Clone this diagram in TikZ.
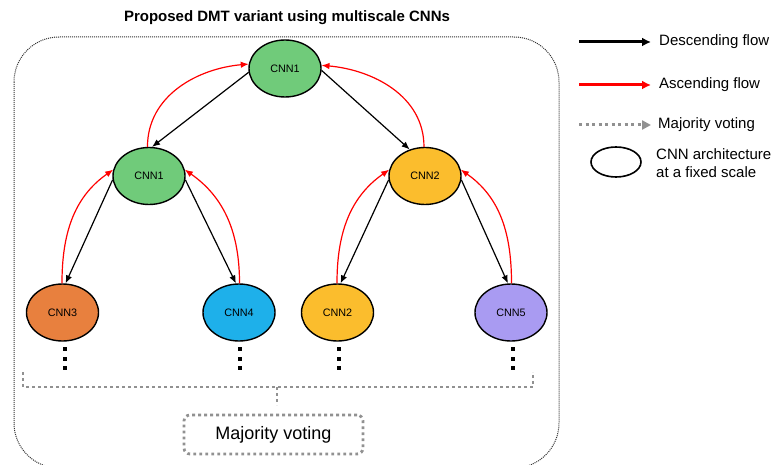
\documentclass[tikz,border=0pt]{standalone}
\usepackage{fontspec}
\setmainfont{Liberation Sans}
\usetikzlibrary{shapes.geometric,arrows.meta}
\definecolor{cgreen}{RGB}{112,203,122}
\definecolor{corange}{RGB}{232,128,62}
\definecolor{cblue}{RGB}{30,176,234}
\definecolor{cyellow}{RGB}{251,189,45}
\definecolor{cpurple}{RGB}{169,155,242}
\definecolor{vgray}{RGB}{145,145,145}
\begin{document}
\begin{tikzpicture}[x=1pt,y=-1pt,
  cnn/.style={ellipse,draw=black,line width=1.4pt,minimum width=72pt,minimum height=57pt,inner sep=0pt,font=\fontsize{10.8}{12}\selectfont},
  desc/.style={draw=black,line width=1.2pt,-{Latex[length=8pt,width=6.5pt]}},
  asc/.style={draw=red,line width=1.2pt,-{Latex[length=8pt,width=6.5pt]}},
  vote/.style={draw=vgray,line width=2.8pt,dash pattern=on 2.8pt off 3.2pt},
  outerbox/.style={draw=black!80,line width=1pt,dash pattern=on 1pt off 1pt,rounded corners=45pt},
  vdot/.style={fill=black,inner sep=0pt,minimum size=3.8pt,rectangle},
  legtext/.style={anchor=west,font=\fontsize{15}{18}\selectfont,inner sep=0pt,align=left}]
\useasboundingbox (0,0) rectangle (776,465);
% title
\node[font=\bfseries\fontsize{15}{18}\selectfont] (title) at (287,18) {Proposed DMT variant using multiscale CNNs};
% outer box
\draw[outerbox] (14,37) rectangle (559,468);
% nodes
\node[cnn,fill=cgreen] (t1) at (285,68.5) {CNN1};
\node[cnn,fill=cgreen] (m1) at (149,176) {CNN1};
\node[cnn,fill=cyellow] (m2) at (425,176) {CNN2};
\node[cnn,fill=corange] (b3) at (62.5,312.5) {CNN3};
\node[cnn,fill=cblue] (b4) at (239,312.5) {CNN4};
\node[cnn,fill=cyellow] (b2) at (337.5,312.5) {CNN2};
\node[cnn,fill=cpurple] (b5) at (511,312.5) {CNN5};
% descending
\draw[desc] (t1.186) -- (m1.84);
\draw[desc] (t1.-3) -- (m2.120);
\draw[desc] (m1.186) -- (b3.84);
\draw[desc] (m1.-6) -- (b4.96);
\draw[desc] (m2.186) -- (b2.84);
\draw[desc] (m2.-6) -- (b5.96);
% ascending
\draw[asc] (m1.93) to[out=90,in=185] (t1.173);
\draw[asc] (m2.92) to[out=90,in=-5] (t1.5);
\draw[asc] (b3.91) to[out=90,in=215] (m1.170);
\draw[asc] (b4.89) to[out=90,in=-35] (m1.10);
\draw[asc] (b2.91) to[out=90,in=215] (m2.170);
\draw[asc] (b5.89) to[out=90,in=-35] (m2.10);
% vertical dots
\foreach \x/\n in {65/a,240/b,339/c,513/d}
  \foreach \y/\m in {349/1,359/2,368/3}
    \node[vdot] (dot\n\m) at (\x,\y) {};
% majority voting brace
\coordinate (brL) at (23,372);
\coordinate (brLb) at (23,387);
\coordinate (brRb) at (533,387);
\coordinate (brR) at (533,372);
\coordinate (stemTop) at (277,387);
\coordinate (stemBot) at (277,405);
\draw[vote] (brL) -- (brLb) -- (brRb) -- (brR);
\draw[vote] (stemTop) -- (stemBot);
\node[vote,rounded corners=6pt,minimum width=179pt,minimum height=39pt,inner sep=0pt,font=\fontsize{18}{21}\selectfont] (mv) at (273.5,434.5) {Majority voting};
% legend
\coordinate (l1a) at (579,42); \coordinate (l1b) at (651,42);
\coordinate (l2a) at (579,85); \coordinate (l2b) at (651,85);
\coordinate (l3a) at (579,125); \coordinate (l3b) at (651,125);
\draw[draw=black,line width=3pt,-{Latex[length=9pt,width=9pt]}] (l1a) -- (l1b);
\draw[draw=red,line width=3pt,-{Latex[length=9pt,width=9pt]}] (l2a) -- (l2b);
\draw[draw=vgray,line width=3pt,dash pattern=on 3pt off 3.5pt,-{Triangle[length=9pt,width=9pt,fill=vgray]}] (l3a) -- (l3b);
\node[legtext] (lt1) at (659,42) {Descending flow};
\node[legtext] (lt2) at (659,85) {Ascending flow};
\node[legtext] (lt3) at (658,125) {Majority voting};
\node[ellipse,draw=black,line width=1.6pt,minimum width=50pt,minimum height=30pt,inner sep=0pt] (lgell) at (616,162) {};
\node[legtext] (lt4) at (656,163.5) {CNN architecture\\at a fixed scale};
\end{tikzpicture}
\end{document}
